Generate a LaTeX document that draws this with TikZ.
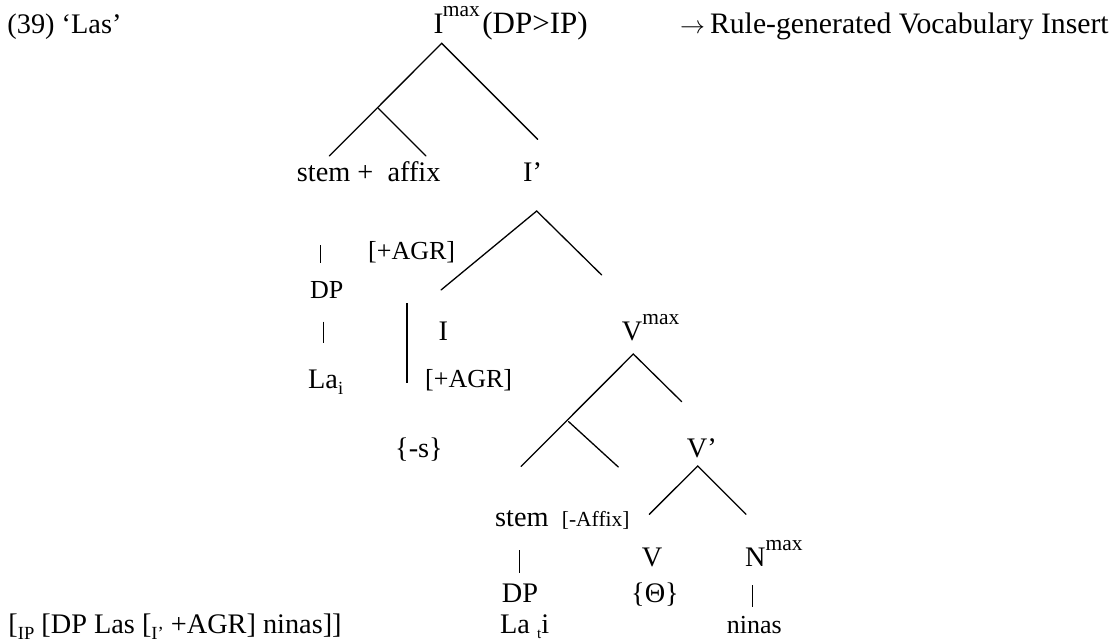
\documentclass[tikz,border=0pt]{standalone}
\usepackage{fontspec}
\setmainfont{Liberation Serif}
\newcommand\supmax[1]{\raisebox{#1}{\fontsize{21.5}{22}\selectfont max}}
\newcommand\lowsub[1]{\raisebox{-6.5pt}{\fontsize{18.5}{20}\selectfont #1}}
\newcommand\lowt[1]{\raisebox{-5pt}{\fontsize{15}{16}\selectfont #1}}
\begin{document}
\begin{tikzpicture}[x=1pt,y=-1pt,
  lbl/.style={anchor=base west, inner sep=0pt, font=\fontsize{28.3}{34}\selectfont},
  lblsm/.style={anchor=base west, inner sep=0pt, font=\fontsize{26}{31}\selectfont},
  lblbig/.style={anchor=base west, inner sep=0pt, font=\fontsize{29.7}{35}\selectfont},
  smalllbl/.style={anchor=base west, inner sep=0pt, font=\fontsize{21.5}{25}\selectfont},
  branch/.style={line width=1.3pt, line cap=round},
  bar/.style={line width=0.8pt},
  thickbar/.style={line width=2pt}]
\useasboundingbox (0,0) rectangle (1120,643);

% texts
\node[lbl] (ex) at (7.3,33.3) {(39) ‘Las’};
\node[lblbig] (root) at (433.3,33.3) {I\kern-0.5pt\supmax{16.5pt}\kern2.5pt{\fontsize{31}{36}\selectfont(DP>IP)}};
\node[lblbig] (note) at (680,33.3) {$\rightarrow$\kern5pt Rule-generated Vocabulary Insert};
\node[lbl] (stemaff) at (296.7,181.7) {stem +\ \ affix};
\node[lbl] (ibar) at (523,181.7) {I’};
\node[lblsm] (agr1) at (368,259.3) {[+AGR]};
\node[lblsm] (dp1) at (310,298.3) {DP};
\node[lbl] (infl) at (438.3,340) {I};
\node[lbl] (vmax) at (621.7,340) {V\supmax{15.5pt}};
\node[lbl] (la1) at (308,388.3) {La\lowsub{i}};
\node[lblsm] (agr2) at (425,387.5) {[+AGR]};
\node[lbl] (sfx) at (395,457) {\{-s\}};
\node[lbl] (vbar) at (686.7,457.5) {V’};
\node[lbl] (stem2) at (495,526.7) {stem};
\node[smalllbl] (affix2) at (561.7,526.7) {[-Affix]};
\node[lbl] (vnode) at (641.7,566.7) {V};
\node[lbl] (nmax) at (745,566.7) {N\supmax{16pt}};
\node[lbl] (dp2) at (501.7,602.7) {DP};
\node[lbl] (theta) at (631,602.7) {\{Θ\}};
\node[lbl] (la2) at (500,633.3) {La \lowt{t}i};
\node[lblsm] (ninas) at (726.7,633.3) {ninas};
\node[lbl] (bracket) at (8.3,633.3) {[\lowsub{IP} [DP Las [\lowsub{I’} +AGR] ninas]]};

% tree coordinates
\coordinate (rA) at (441.7,43.3);
\coordinate (rL) at (329.3,156);
\coordinate (rM) at (378.3,108.3);
\coordinate (rML) at (426,156);
\coordinate (rR) at (537.7,139.3);
\coordinate (iA) at (536.7,211);
\coordinate (iL) at (441,290);
\coordinate (iR) at (601.7,275);
\coordinate (vA) at (633.3,354);
\coordinate (vL) at (521,466.5);
\coordinate (vM) at (568.5,421.5);
\coordinate (vMR) at (618.3,467);
\coordinate (vR) at (681.7,401.7);
\coordinate (pA) at (697.7,466);
\coordinate (pL) at (649.3,514.3);
\coordinate (pR) at (746,514.3);

\draw[branch] (rL) -- (rA) -- (rR);
\draw[branch] (rM) -- (rML);
\draw[branch] (iL) -- (iA) -- (iR);
\draw[branch] (vL) -- (vA) -- (vR);
\draw[branch] (vM) -- (vMR);
\draw[branch] (pL) -- (pA) -- (pR);

% bars
\coordinate (b1t) at (320,245); \coordinate (b1b) at (320,262.7);
\coordinate (b2t) at (323,321.7); \coordinate (b2b) at (323,343);
\coordinate (b3t) at (519,550); \coordinate (b3b) at (519,572.7);
\coordinate (b4t) at (752.3,585); \coordinate (b4b) at (752.3,606.7);
\coordinate (tkt) at (406.7,303.3); \coordinate (tkb) at (406.7,382.7);
\draw[bar] (b1t) -- (b1b);
\draw[bar] (b2t) -- (b2b);
\draw[bar] (b3t) -- (b3b);
\draw[bar] (b4t) -- (b4b);
\draw[thickbar] (tkt) -- (tkb);
\end{tikzpicture}
\end{document}
